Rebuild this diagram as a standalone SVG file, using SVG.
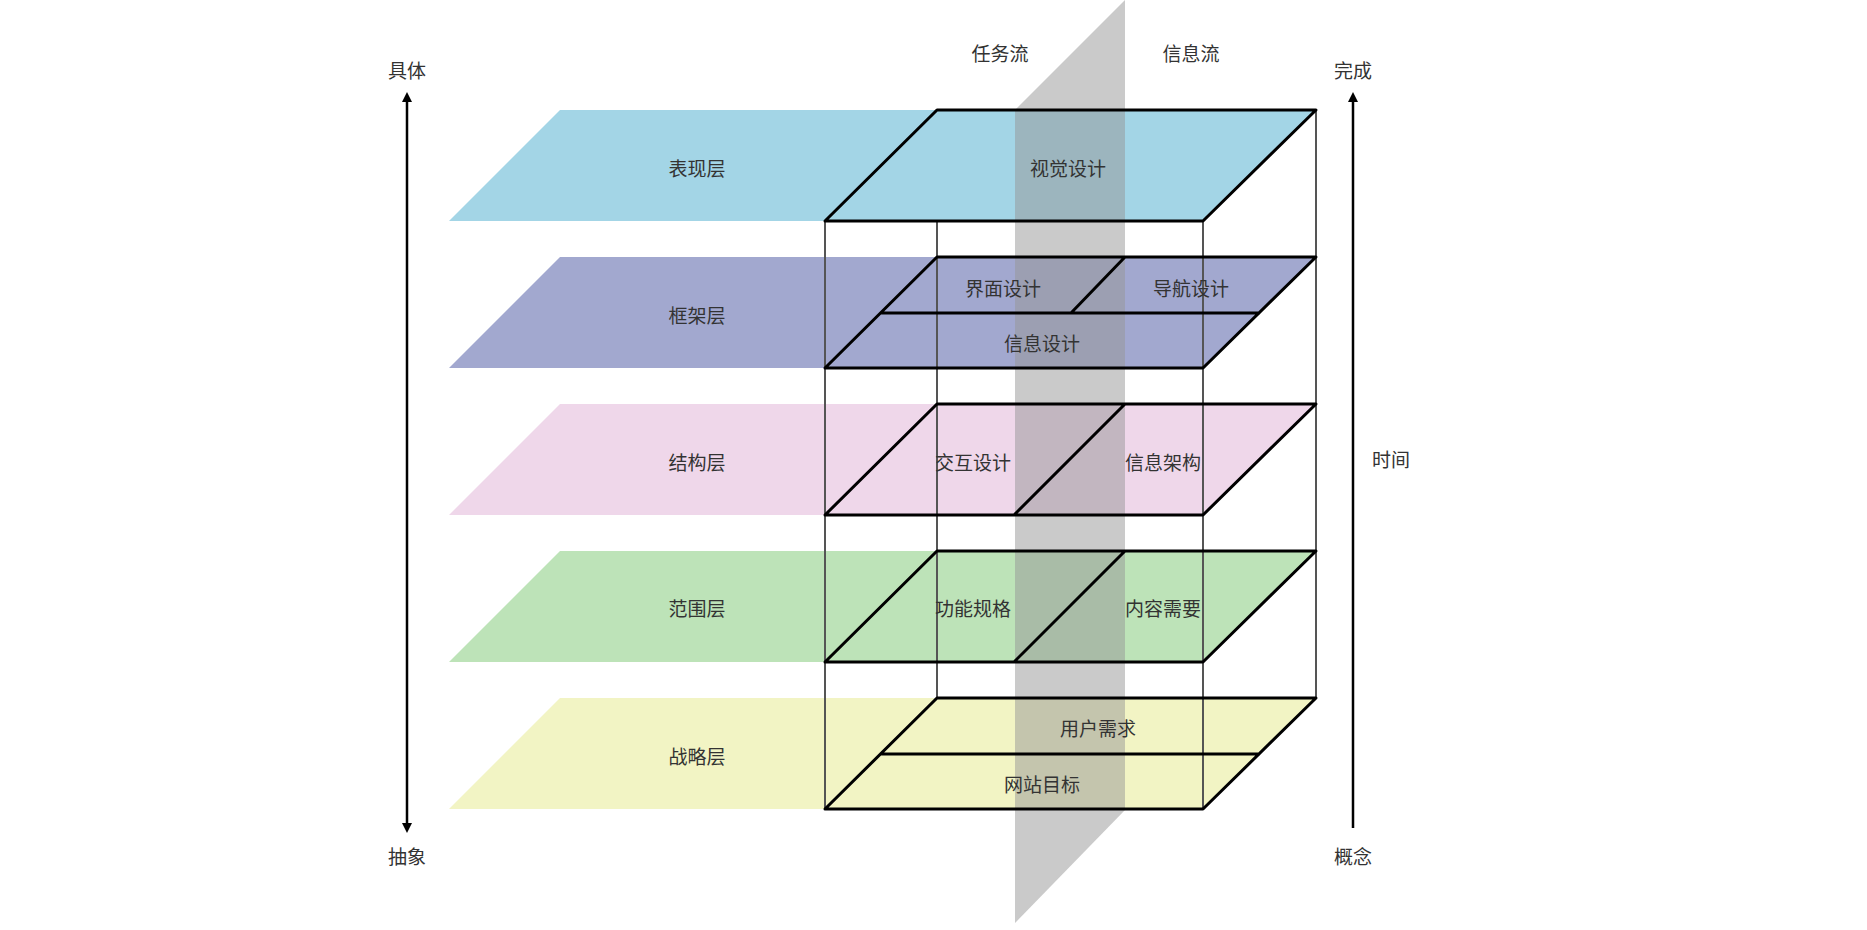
<svg xmlns="http://www.w3.org/2000/svg" width="1867" height="930" viewBox="0 0 1867 930">
<style>
text{font-family:"Noto Sans CJK SC","Liberation Sans",sans-serif;font-size:19px;fill:#333;text-anchor:middle;dominant-baseline:central}
.o{fill:none;stroke:#000;stroke-width:3;stroke-linejoin:round}
.v{stroke:#555;stroke-width:2;fill:none}
.ax{stroke:#000;stroke-width:2.5;fill:none}
</style>
<defs><marker id="ah" markerWidth="10" markerHeight="10" refX="5" refY="5" orient="auto-start-reverse" markerUnits="userSpaceOnUse"><path d="M0,0 L10,5 L0,10 z" fill="#000"/></marker></defs>
<rect width="1867" height="930" fill="#fff"/>
<g id="layer-fills">
<path d="M449,221 L560,110 L1316,110 L1203,221 Z" fill="#a3d5e6"/>
<path d="M449,368 L560,257 L1316,257 L1203,368 Z" fill="#a2a8cf"/>
<path d="M449,515 L560,404 L1316,404 L1203,515 Z" fill="#efd7ea"/>
<path d="M449,662 L560,551 L1316,551 L1203,662 Z" fill="#bde3b8"/>
<path d="M449,809 L560,698 L1316,698 L1203,809 Z" fill="#f2f4c4"/>
</g>
<g id="plane"><path d="M1015,110 L1125,0 L1125,810 L1015,923 Z" fill="rgba(150,150,150,0.5)"/></g>
<g id="connectors">
<line class="v" x1="825" y1="221" x2="825" y2="809"/>
<line class="v" x1="937" y1="221" x2="937" y2="698"/>
<line class="v" x1="1203" y1="221" x2="1203" y2="809"/>
<line class="v" x1="1316" y1="110" x2="1316" y2="698"/>
<line class="ax" x1="407" y1="97" x2="407" y2="828" marker-start="url(#ah)" marker-end="url(#ah)"/>
<line class="ax" x1="1353" y1="97" x2="1353" y2="828" marker-start="url(#ah)"/>
</g>
<g id="box1"><path class="o" d="M825,221 L937,110 L1316,110 L1203,221 Z"/><text x="1068" y="167">视觉设计</text></g>
<g id="box2"><path class="o" d="M825,368 L937,257 L1316,257 L1203,368 Z M881,313 L1260,313 M1125,257 L1071,313"/>
<text x="1003" y="287">界面设计</text><text x="1191" y="287">导航设计</text><text x="1042" y="342">信息设计</text></g>
<g id="box3"><path class="o" d="M825,515 L937,404 L1316,404 L1203,515 Z M1125,404 L1014,515"/>
<text x="973" y="461">交互设计</text><text x="1163" y="461">信息架构</text></g>
<g id="box4"><path class="o" d="M825,662 L937,551 L1316,551 L1203,662 Z M1125,551 L1014,662"/>
<text x="973" y="607">功能规格</text><text x="1163" y="607">内容需要</text></g>
<g id="box5"><path class="o" d="M825,809 L937,698 L1316,698 L1203,809 Z M881,754 L1260,754"/>
<text x="1098" y="727">用户需求</text><text x="1042" y="783">网站目标</text></g>
<g id="labels">
<text x="697" y="167">表现层</text><text x="697" y="314">框架层</text><text x="697" y="461">结构层</text><text x="697" y="607">范围层</text><text x="697" y="755">战略层</text>
<text x="1000" y="52">任务流</text><text x="1191" y="52">信息流</text>
<text x="407" y="69">具体</text><text x="407" y="855">抽象</text>
<text x="1353" y="69">完成</text><text x="1353" y="855">概念</text><text x="1391" y="458">时间</text>
</g>
</svg>
